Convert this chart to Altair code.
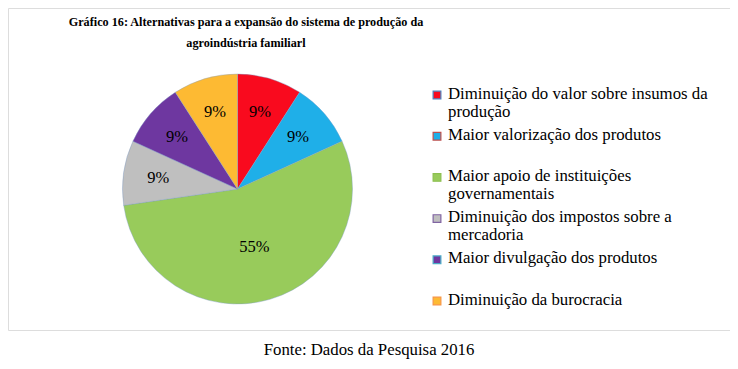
import altair as alt
import pandas as pd

categories = [
    "Diminuição do valor sobre insumos da produção",
    "Maior valorização dos produtos",
    "Maior apoio de instituições governamentais",
    "Diminuição dos impostos sobre a mercadoria",
    "Maior divulgação dos produtos",
    "Diminuição da burocracia",
]
legend_lines = [
    "Diminuição do valor sobre insumos da\nprodução",
    "Maior valorização dos produtos",
    "Maior apoio de instituições\ngovernamentais",
    "Diminuição dos impostos sobre a\nmercadoria",
    "Maior divulgação dos produtos",
    "Diminuição da burocracia",
]
values = [1, 1, 6, 1, 1, 1]
labels = ["9%", "9%", "55%", "9%", "9%", "9%"]
colors = ["#F90A1E", "#1FAFE8", "#98CB5B", "#BFBFBF", "#6E37A0", "#FDBA33"]
outline = ["#4F81BD", "#C0504D", "#8CBF4F", "#8064A2", "#4BACC6", "#F79646"]

df = pd.DataFrame({
    "cat": categories,
    "leg": legend_lines,
    "value": values,
    "label": labels,
    "idx": list(range(len(categories))),
})

FONT = "Liberation Serif"
cx, cy = 229.5, 181

color_scale = alt.Scale(domain=categories, range=colors)
stroke_scale = alt.Scale(domain=categories, range=outline)

base = alt.Chart(df)

pie = base.mark_arc(outerRadius=115, stroke="#7f9cc7", strokeWidth=0.4).encode(
    theta=alt.Theta("value:Q", stack=True),
    color=alt.Color("cat:N", scale=color_scale, legend=None),
    order=alt.Order("idx:Q"),
    x=alt.value(cx),
    y=alt.value(cy),
)


def pie_labels(test, r):
    return base.mark_text(font=FONT, fontSize=16.5, color="black").encode(
        theta=alt.Theta("value:Q", stack=True),
        order=alt.Order("idx:Q"),
        radius=alt.value(r),
        text=alt.condition(test, "label:N", alt.value("")),
        x=alt.value(cx),
        y=alt.value(cy),
    )


big_text = pie_labels("datum.value > 3", 60)
small_text = pie_labels("datum.value <= 3", 80)

yscale = alt.Scale(domain=[0, 5], range=[87, 293])

leg_sq = base.mark_square(size=60, strokeWidth=1.2, opacity=1).encode(
    x=alt.value(429),
    y=alt.Y("idx:Q", scale=yscale, axis=None),
    fill=alt.Fill("cat:N", scale=color_scale, legend=None),
    stroke=alt.Stroke("cat:N", scale=stroke_scale, legend=None),
)

leg_txt = base.mark_text(
    font=FONT, fontSize=16.8, align="left", baseline="top", dy=-9.5,
    lineBreak="\n", lineHeight=18, color="black",
).encode(
    x=alt.value(440),
    y=alt.Y("idx:Q", scale=yscale, axis=None),
    text="leg:N",
)

title_txt = alt.Chart(pd.DataFrame({"t": ["Gráfico 16: Alternativas para a expansão do sistema de produção da\nagroindústria familiarl"]})).mark_text(
    font=FONT, fontSize=12.2, fontWeight="bold", align="center", baseline="alphabetic",
    lineBreak="\n", lineHeight=21, color="black",
).encode(
    x=alt.value(238),
    y=alt.value(18),
    text="t:N",
)

chart = alt.layer(pie, big_text, small_text, leg_sq, leg_txt, title_txt).properties(
    width=722,
    height=322,
    padding={"left": 0, "top": 0, "right": 0, "bottom": 5},
    title=alt.TitleParams(
        "Fonte: Dados da Pesquisa 2016", orient="bottom", anchor="middle",
        font=FONT, fontSize=16.8, fontWeight="normal", color="black", offset=12,
    ),
).configure_view(stroke="#D4D4D4", strokeWidth=1.2).configure(background="white")

chart.save("out.html", embed_options={"renderer": "svg", "actions": False})
